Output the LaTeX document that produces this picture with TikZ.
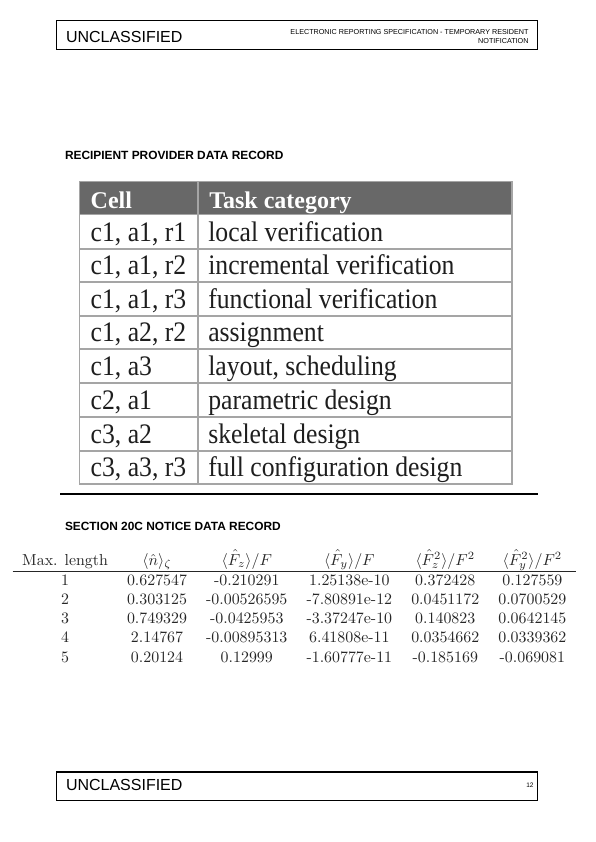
\documentclass[tikz,border=0pt]{standalone}
\usepackage{fontspec}
\newfontfamily\hsans{Liberation Sans}
\newfontfamily\tnr{Liberation Serif}
\definecolor{hdrgray}{RGB}{104,104,104}
\definecolor{gridgray}{RGB}{165,165,165}
\definecolor{inkdark}{RGB}{30,30,30}
\begin{document}
\begin{tikzpicture}[x=1pt,y=-1pt,
  txt/.style={inner sep=0pt, outer sep=0pt},
  frame/.style={draw=black, line width=1.1pt},
  bigsans/.style={txt, anchor=base west, font=\hsans\fontsize{16}{19}\selectfont},
  smallsans/.style={txt, anchor=base east, font=\hsans\fontsize{7.2}{9}\selectfont},
  title/.style={txt, anchor=base west, font=\hsans\bfseries\fontsize{11.9}{14}\selectfont},
  cellhead/.style={txt, anchor=base west, text=white, font=\tnr\bfseries\fontsize{24}{28}\selectfont},
  cellbody/.style={txt, anchor=base west, text=inkdark, font=\tnr\fontsize{25.7}{30}\selectfont},
  grid/.style={draw=gridgray, line width=1.8pt}
]
\useasboundingbox (0,0) rectangle (596,842);
\fill[white] (0,0) rectangle (596,842);

% ---- page header ----
\draw[frame] (56.7,20.7) rectangle (537.3,49.3);
\node[bigsans] (hdrL) at (66,42.7) {UNCLASSIFIED};
\node[smallsans] (hdrR1) at (528.5,35) {ELECTRONIC REPORTING SPECIFICATION - TEMPORARY RESIDENT};
\node[smallsans] (hdrR2) at (528.5,44) {NOTIFICATION};

% ---- section 1 ----
\node[title] (sec1) at (65,160) {RECIPIENT PROVIDER DATA RECORD};

% table 1
\fill[hdrgray] (79.5,181.5) rectangle (511.7,214.5);
\draw[grid] (79.5,181.5) rectangle (511.7,484);
\foreach \yy in {214.5,249,282.3,315.7,349,383.3,417.3,450.7}
  \draw[grid] (79.5,\yy) -- (511.7,\yy);
\draw[grid] (198.3,181.5) -- (198.3,484);

\node[cellhead] (h1) at (90.7,208) {Cell};
\node[cellhead] (h2) at (209.3,208) {Task category};

\newcommand{\rowtxt}[3]{%
  \node[cellbody] (a#1) at (90.7,#1) {\scalebox{1}[1.1]{#2}};
  \node[cellbody] (b#1) at (208.3,#1) {\scalebox{1}[1.1]{#3}};}
\rowtxt{241.3}{c1, a1, r1}{local verification}
\rowtxt{274.6}{c1, a1, r2}{incremental verification}
\rowtxt{308.0}{c1, a1, r3}{functional verification}
\rowtxt{341.3}{c1, a2, r2}{assignment}
\rowtxt{375.6}{c1, a3}{layout, scheduling}
\rowtxt{409.6}{c2, a1}{parametric design}
\rowtxt{443.0}{c3, a2}{skeletal design}
\rowtxt{476.3}{c3, a3, r3}{full configuration design}

\draw[black, line width=1.1pt] (60,494) -- (538,494);

% ---- section 2 ----
\node[title] (sec2) at (65,530) {SECTION 20C NOTICE DATA RECORD};

\node[txt, anchor=base west, text=black!85] (t2) at (12.7,565) {%
  \scalebox{1.59}{\setlength{\arrayrulewidth}{0.8pt}%
  \begin{tabular}[t]{cccccc}
  Max. length & $\langle\hat{n}\rangle_\zeta$ & $\langle\hat{F}_z\rangle/F$ & $\langle\hat{F}_y\rangle/F$ & $\langle\hat{F}_z^2\rangle/F^2$ & $\langle\hat{F}_y^2\rangle/F^2$ \\
  \hline
  1 & 0.627547 & -0.210291 & 1.25138e-10 & 0.372428 & 0.127559 \\
  2 & 0.303125 & -0.00526595 & -7.80891e-12 & 0.0451172 & 0.0700529 \\
  3 & 0.749329 & -0.0425953 & -3.37247e-10 & 0.140823 & 0.0642145 \\
  4 & 2.14767 & -0.00895313 & 6.41808e-11 & 0.0354662 & 0.0339362 \\
  5 & 0.20124 & 0.12999 & -1.60777e-11 & -0.185169 & -0.069081 \\
  \end{tabular}}};

% ---- page footer ----
\draw[frame] (56.7,772) rectangle (537.3,800.7);
\node[bigsans] (ftrL) at (66,790.7) {UNCLASSIFIED};
\node[txt, anchor=base east, font=\hsans\fontsize{6.5}{8}\selectfont] (ftrR) at (533.5,787.5) {12};
\end{tikzpicture}
\end{document}
